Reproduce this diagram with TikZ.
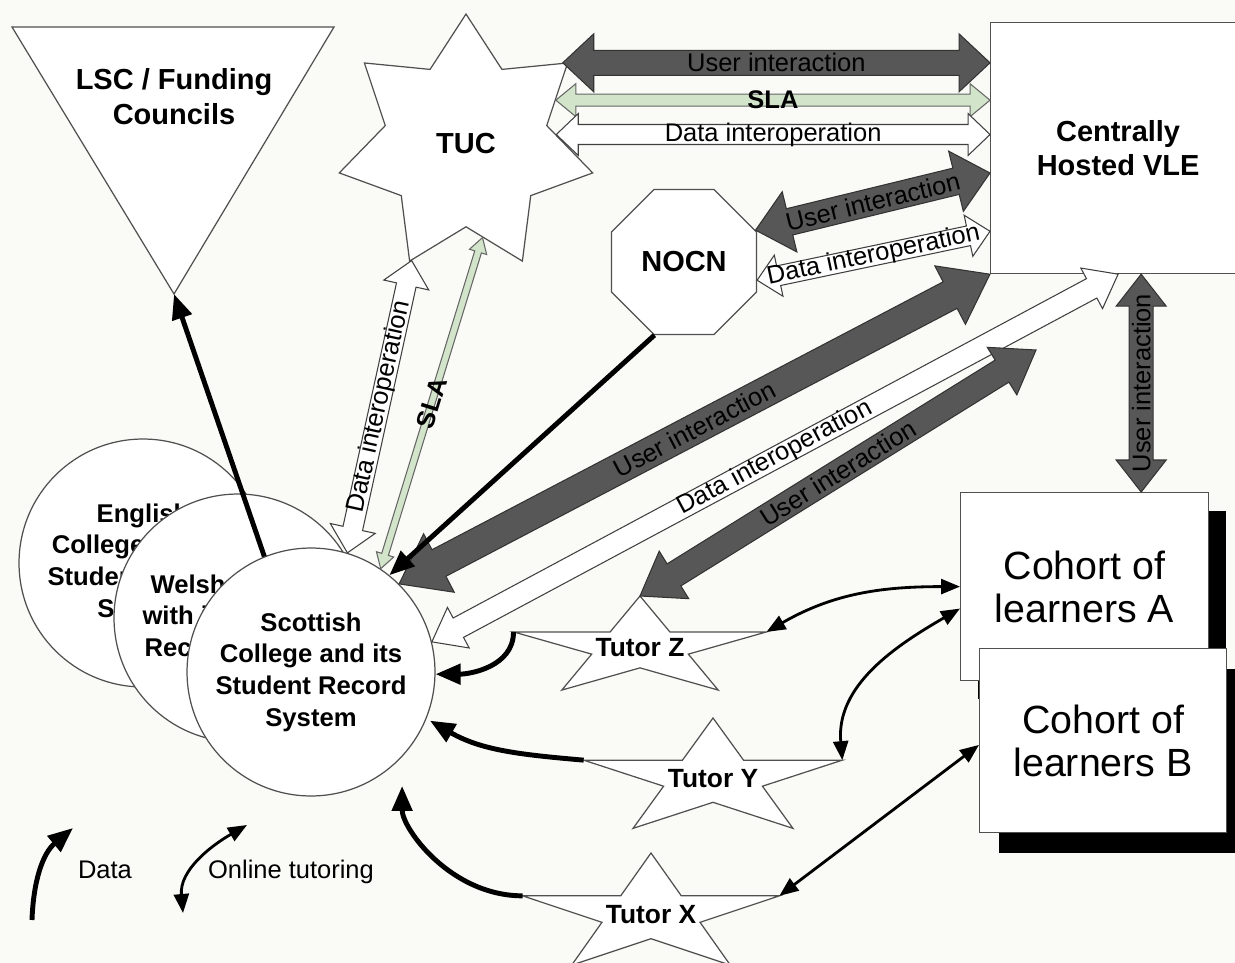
\documentclass[tikz,border=0pt]{standalone}
\usepackage{fontspec}
\setmainfont{Liberation Sans}
\usetikzlibrary{arrows.meta, calc, shapes.geometric, shadows}
\definecolor{cpaper}{HTML}{FAFAF6}
\definecolor{cline}{HTML}{505050}
\definecolor{cdark}{HTML}{575757}
\definecolor{csla}{HTML}{D2E4C9}
\tikzset{
  every picture/.style={line width=0.7pt},
  body/.style={draw=cline, fill=white, line width=0.7pt},
  college/.style={body, circle, minimum size=4.96cm, inner sep=0pt, align=center, font=\bfseries\fontsize{14.6}{18}\selectfont},
  boldlabel/.style={align=center, font=\bfseries\fontsize{16.5}{19.8}\selectfont},
  cohort/.style={body, rectangle, anchor=north west, align=center, font=\fontsize{22.4}{24.4}\selectfont},
  tutorlabel/.style={font=\bfseries\fontsize{15}{18}\selectfont},
  arrowlabel/.style={inner sep=0pt, font=\fontsize{14.5}{16}\selectfont},
  ui/.style={fill=cdark, draw=black!80, line width=0.6pt},
  di/.style={fill=white, draw=black!75, line width=0.6pt},
  sla/.style={fill=csla, draw=black!60, line width=0.6pt},
  datalink/.style={line width=2.8pt, -{Triangle[length=0.5cm, width=0.4cm]}},
  tutorlink/.style={line width=1.6pt, {Triangle[length=0.38cm, width=0.3cm]}-{Triangle[length=0.38cm, width=0.3cm]}},
  legend/.style={font=\fontsize{14.5}{16}\selectfont},
}
% block arrow: [style]{from}{to}{shaft}{head}{head length}{label}, sizes in px
\newcommand\blockarrow[7][]{%
  \path let \p1=(#2), \p2=(#3) in \pgfextra{%
    \pgfmathparse{atan2(\y2-\y1,\x2-\x1)}\xdef\baang{\pgfmathresult}%
    \pgfmathparse{veclen(\x2-\x1,\y2-\y1)/0.569}\xdef\balen{\pgfmathresult}};
  \begin{scope}[shift={(#2)}, rotate=\baang, x=0.569pt, y=0.569pt]
    \draw[#1] (0,0) -- (#6,{#5/2}) -- (#6,{#4/2}) -- ({\balen-#6},{#4/2}) -- ({\balen-#6},{#5/2})
      -- (\balen,0) -- ({\balen-#6},{-#5/2}) -- ({\balen-#6},{-#4/2}) -- (#6,{-#4/2}) -- (#6,{-#5/2}) -- cycle;
    \node[arrowlabel, rotate=\baang] at ({\balen/2},0) {#7};
  \end{scope}}
% flat five point star with its label: {name}{x}{y}{rx}{ry}{text}
\newcommand\tutorstar[6]{%
  \draw[body] ({#2},{#3-#5}) \foreach \k in {1,...,5}{
      -- ({#2+0.382*#4*sin(72*\k-36)},{#3-0.382*#5*cos(72*\k-36)}) -- ({#2+#4*sin(72*\k)},{#3-#5*cos(72*\k)}) } -- cycle;
  \node[tutorlabel] (#1) at (#2,#3) {#6};
  \coordinate (#1-n) at ({#2},{#3-#5});
  \coordinate (#1-w) at ({#2-0.951*#4},{#3-0.309*#5});
  \coordinate (#1-e) at ({#2+0.951*#4},{#3-0.309*#5});}

\begin{document}
\begin{tikzpicture}[x=0.02cm, y=-0.02cm]
  \fill[cpaper] (0,0) rectangle (1235,963);
  \useasboundingbox (0,0) rectangle (1235,963);

  % colleges
  \node[college] (english) at (143,563) {English\\College and its\\Student Record\\System};
  \node[college] (welsh) at (238,618) {Welsh College\\with its Student\\Record System};
  \node[college] (scottish) at (311,672) {Scottish\\College and its\\Student Record\\System};

  % partners
  \draw[body] (12,27) -- (334,27) -- (174,294) -- cycle;
  \coordinate (lsc-apex) at (174,294);
  \node[boldlabel] (lsc) at (174,97) {LSC / Funding\\Councils};
  \node[body, star, star points=7, star point ratio=1.57, minimum size=5.2cm, inner sep=0pt, boldlabel] (tuc) at (466,144) {TUC};
  \node[body, regular polygon, regular polygon sides=8, minimum size=3.14cm, inner sep=0pt, boldlabel] (nocn) at (684,262) {NOCN};
  \node[body, rectangle, anchor=north west, minimum width=5.1cm, minimum height=5.02cm, boldlabel] (vle) at (990,22) {Centrally\\Hosted VLE};

  % learners
  \node[cohort, minimum width=4.96cm, minimum height=3.76cm,
        drop shadow={shadow xshift=0.34cm, shadow yshift=-0.36cm, fill=black, opacity=1}] (cohortA) at (960,492) {Cohort of\\learners A};
  \node[cohort, minimum width=4.94cm, minimum height=3.68cm,
        drop shadow={shadow xshift=0.38cm, shadow yshift=-0.4cm, fill=black, opacity=1}] (cohortB) at (979,648) {Cohort of\\learners B};

  % tutors
  \tutorstar{tz}{640}{648}{133}{52}{Tutor Z}
  \tutorstar{ty}{713}{779}{136}{61}{Tutor Y}
  \tutorstar{tx}{651}{915}{135}{62}{Tutor X}

  % TUC to VLE
  \blockarrow[ui]{tuc.40}{vle.west |- tuc.40}{25}{58}{31}{User interaction}
  \blockarrow[sla]{tuc.26}{vle.west |- tuc.26}{12}{33}{20}{\bfseries SLA}
  \blockarrow[di]{tuc.6}{vle.west |- tuc.6}{20}{42}{22}{Data interoperation}
  % NOCN to VLE
  \blockarrow[ui]{nocn.24}{vle.191}{27}{62}{35}{User interaction}
  \blockarrow[di]{nocn.-14}{vle.213}{20}{42}{22}{Data interoperation}
  % college links
  \blockarrow[di]{scottish.73}{tuc.245}{20}{46}{25}{Data interoperation}
  \blockarrow[sla]{scottish.56}{tuc.280}{7}{18}{15}{\bfseries SLA}
  \blockarrow[ui]{scottish.45}{vle.south west}{30}{66}{45}{User interaction}
  \blockarrow[di]{scottish.14}{vle.south}{22}{46}{30}{Data interoperation}
  \coordinate (tz-ui) at (1036,350);
  \blockarrow[ui]{tz-n}{tz-ui}{26}{56}{40}{User interaction}
  \coordinate (ui-foot) at ($(cohortA.north east)+(-68,0)$);
  \blockarrow[ui]{ui-foot}{vle.south -| ui-foot}{24}{50}{32}{User interaction}

  % data
  \draw[datalink] (scottish.112) -- (lsc-apex);
  \draw[datalink] (nocn.248) -- (scottish.51);
  \draw[datalink] (tz-w) to[out=-90, in=0] (scottish.-1);
  \draw[datalink, shorten >=0.08cm] (ty-w) to[out=175, in=-30] (scottish.-22);
  \draw[datalink, shorten >=0.58cm] (tx-w) to[out=180, in=-90] (scottish.-43);

  % online tutoring
  \draw[tutorlink] (tz-e) to[out=30, in=180] (cohortA.west);
  \draw[tutorlink] (ty-e) to[out=95, in=210] (cohortA.190);
  \draw[tutorlink] (tx-e) -- (cohortB.182);

  % legend
  \node[legend] (legdata) at (105,870) {Data};
  \node[legend] (legtutor) at (291,872) {Online tutoring};
  \coordinate (data-foot) at (32,920);
  \coordinate (data-tip) at (73,828);
  \coordinate (tutor-foot) at (183,913);
  \coordinate (tutor-tip) at (247,825);
  \draw[datalink] (data-foot) to[out=88, in=220] (data-tip);
  \draw[tutorlink] (tutor-foot) to[out=95, in=210] (tutor-tip);
\end{tikzpicture}
\end{document}
